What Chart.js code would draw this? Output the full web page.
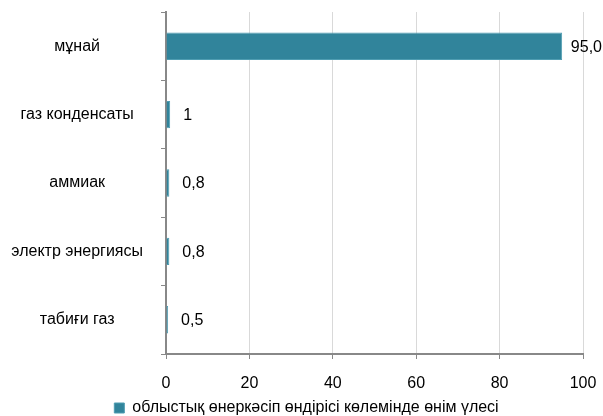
<!DOCTYPE html>
<html>
<head>
<meta charset="utf-8">
<script src="https://cdn.jsdelivr.net/npm/chart.js@4/dist/chart.umd.min.js"></script>
<style>
  html, body { margin: 0; padding: 0; background: #fff; }
  #wrap { width: 603px; height: 416px; }
</style>
</head>
<body>
<div id="wrap"><canvas id="chart"></canvas></div>
<script>
/* Данные диаграммы */
const categories = ['мұнай', 'газ конденсаты', 'аммиак', 'электр энергиясы', 'табиғи газ']
const values = [95.0, 1, 0.8, 0.8, 0.5]
const valueLabels = ['95,0', '1', '0,8', '0,8', '0,5']
const seriesName = 'облыстық өнеркәсіп өндірісі көлемінде өнім үлесі'
const xTicks = [0, 20, 40, 60, 80, 100]

const FONT = "'Liberation Sans', Arial, sans-serif"
const FONT_SIZE = 16

/* Подписи значений справа от столбиков (не вылезают за край) */
const valueLabelPlugin = {
    id: 'valueLabels',
    afterDatasetsDraw(chart) {
        const ctx = chart.ctx
        const meta = chart.getDatasetMeta(0)
        ctx.save()
        ctx.font = FONT_SIZE + 'px ' + FONT
        ctx.fillStyle = '#000'
        ctx.textAlign = 'left'
        ctx.textBaseline = 'middle'
        meta.data.forEach((bar, i) => {
            const w = ctx.measureText(valueLabels[i]).width
            const x = Math.min(bar.x + 13, chart.width - w - 1)
            ctx.fillText(valueLabels[i], x, bar.y + 1)
        })
        ctx.restore()
    }
}

/* Легенда пониже и чуть правее, как в оригинале */
const legendTweakPlugin = {
    id: 'legendTweak',
    afterInit(chart) {
        const lg = chart.legend
        if (!lg) return
        const fit = lg.fit
        lg.fit = function () {
            fit.call(this)
            this.height = 16
        }
        const draw = lg.draw
        lg.draw = function () {
            this.ctx.save()
            this.ctx.translate(5, 0)
            draw.call(this)
            this.ctx.restore()
        }
    }
}

const ctx = document.getElementById('chart').getContext('2d')
const chart = new Chart(ctx, {
    type: 'bar',
    data: {
        labels: categories,
        datasets: [{
            label: seriesName,
            data: values,
            backgroundColor: '#31849b',
            borderColor: '#4f9db2',
            borderWidth: 1,
            barPercentage: 0.4,
            categoryPercentage: 1.0
        }]
    },
    options: {
        indexAxis: 'y',
        responsive: true,
        maintainAspectRatio: false,
        animation: false,
        layout: { padding: { top: 12, right: 0, left: 0, bottom: 0 } },
        plugins: {
            legend: {
                position: 'bottom',
                labels: {
                    color: '#000',
                    font: { family: FONT, size: FONT_SIZE },
                    boxWidth: 10,
                    boxHeight: 10,
                    padding: 0
                }
            },
            tooltip: { enabled: false }
        },
        scales: {
            x: {
                min: 0,
                max: 100,
                afterBuildTicks(scale) {
                    scale.ticks = xTicks.map(v => ({ value: v }))
                },
                afterFit(scale) {
                    scale.height = 46
                    scale.paddingLeft = 0
                    scale.paddingRight = 20
                },
                grid: {
                    color: '#d9d9d9',
                    lineWidth: 1,
                    tickColor: '#888',
                    tickLength: 5
                },
                border: { color: '#888', width: 2 },
                ticks: {
                    color: '#000',
                    font: { family: FONT, size: FONT_SIZE },
                    padding: 15,
                    maxRotation: 0
                }
            },
            y: {
                afterFit(scale) {
                    scale.width = 166
                    scale.paddingTop = 0
                    scale.paddingBottom = 0
                },
                grid: {
                    offset: true,
                    drawOnChartArea: false,
                    tickColor: '#888',
                    tickLength: 5
                },
                border: { color: '#888', width: 2 },
                ticks: {
                    color: '#000',
                    font: { family: FONT, size: FONT_SIZE },
                    crossAlign: 'center',
                    padding: 18
                }
            }
        }
    },
    plugins: [valueLabelPlugin, legendTweakPlugin]
})
</script>
</body>
</html>
